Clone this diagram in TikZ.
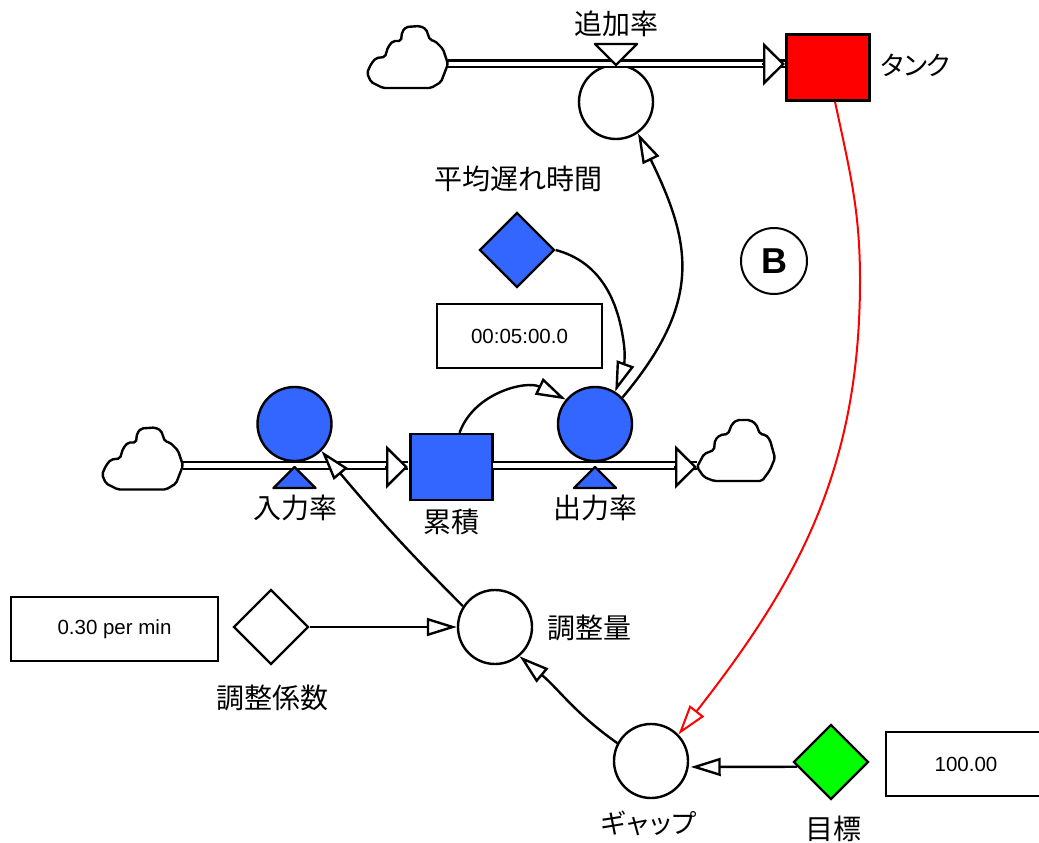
\documentclass[tikz,border=0pt]{standalone}
\usepackage{fontspec}
\setmainfont{Liberation Sans}
\newfontfamily\jpfont{Noto Sans CJK JP}
\newfontfamily\kanafont[LetterSpace=-12]{Noto Sans CJK JP}
\usetikzlibrary{arrows.meta,shapes.geometric}

\definecolor{flowblue}{HTML}{3366FF}

\tikzset{
  every path/.style={line width=2.4pt},
  ratecirc/.style={draw,circle,line width=2.4pt,minimum size=74pt,inner sep=0pt,fill=white},
  conv/.style={draw,diamond,line width=2.4pt,aspect=1,minimum size=75pt,inner sep=0pt,fill=white},
  stockbox/.style={draw,rectangle,line width=2.4pt,minimum width=#1,minimum height=66pt,inner sep=0pt},
  valuebox/.style={draw,rectangle,line width=2.4pt,fill=white,minimum height=64pt,inner sep=0pt,font=\fontsize{20.5}{20.5}\selectfont},
  jplabel/.style={font=\fontsize{28}{28}\selectfont\jpfont,inner sep=0pt},
  kanalabel/.style={font=\fontsize{26.5}{27}\selectfont\kanafont,inner sep=0pt},
  link/.style={-{Triangle[length=30pt,width=18pt,fill=white]},black},
  flowpipe/.style={double=white,double distance=4.2pt},
  flowhead/.style={-{Triangle[length=22pt,width=43pt,fill=white]}},
  cloudleft/.pic={
    \draw[rounded corners=2pt,fill=white] (0,0) -- (-5,-15) -- (-13,-23) -- (-18,-24) -- (-22,-35) -- (-28,-38) -- (-42,-37)
      -- (-46,-32) -- (-47,-23) -- (-55,-23) -- (-60,-17) -- (-63,-7) -- (-72,-6) -- (-77,0) -- (-81,9)
      -- (-77,18) -- (-65,24) -- (-17,24) -- (-7,18) -- cycle;
  },
  cloudright/.pic={
    \draw[rounded corners=2pt,fill=white] (0,0) -- (7,-13) -- (17,-17) -- (18,-27) -- (23,-32) -- (31,-33) -- (35,-43) -- (40,-47)
      -- (53,-47) -- (59,-43) -- (63,-33) -- (69,-32) -- (73,-27) -- (78,-9) -- (73,3) -- (65,14)
      -- (17,14) -- (7,10) -- cycle;
  },
  valveup/.pic={
    \draw[fill=flowblue,line join=round] (-21,21) -- (0,0) -- (21,21) -- cycle;
  },
  valvedown/.pic={
    \draw[fill=white,line join=round] (-21,-21) -- (0,0) -- (21,-21) -- cycle;
  },
}

\begin{document}
\begin{tikzpicture}[x=1pt,y=-1pt]
  \useasboundingbox (0,0) rectangle (1039,843);

  % stocks
  \node[stockbox=83pt,fill=red] (tank) at (828,67.5) {};
  \node[stockbox=82pt,fill=flowblue] (accum) at (451.5,467) {};

  % rates
  \node[ratecirc] (addrate) at (616,102) {};
  \node[ratecirc,fill=flowblue] (inrate) at (294.5,424) {};
  \node[ratecirc,fill=flowblue] (outrate) at (595,424) {};
  \node[ratecirc] (adjust) at (495,627) {};
  \node[ratecirc] (gap) at (651,761) {};

  % converters
  \node[conv,fill=flowblue] (delay) at (517,250) {};
  \node[conv] (adjcoef) at (271,627) {};
  \node[conv,fill=green] (goal) at (831,762) {};

  % value boxes
  \node[valuebox,minimum width=165pt] (delayval) at (519.5,336) {00:05:00.0};
  \node[valuebox,minimum width=207pt] (coefval) at (114.5,629) {0.30 per min};
  \node[valuebox,minimum width=160pt] (goalval) at (966,764) {100.00};

  % loop mark
  \node[draw,circle,line width=2pt,minimum size=66pt,inner sep=0pt,font=\fontsize{36}{36}\selectfont\bfseries] (loopmark) at (774,261) {B};

  % flows
  \coordinate (cloudA) at (448,64);
  \coordinate (tankIn) at (785,64);
  \coordinate (cloudB) at (183,465.5);
  \coordinate (accumIn) at (408,467);
  \coordinate (accumOut) at (493,465.5);
  \coordinate (cloudC) at (697,467);
  \draw[flowpipe] (cloudA) -- (tankIn);
  \draw[flowpipe] (cloudB) -- (accumIn |- cloudB);
  \draw[flowpipe] (accumOut) -- (cloudC |- accumOut);
  \draw[flowhead] ([xshift=-23pt]tankIn) -- (tankIn);
  \draw[flowhead] ([xshift=-23pt]accumIn) -- (accumIn);
  \pic at (cloudA) {cloudleft};
  \pic at (cloudB) {cloudleft};
  \pic at (cloudC) {cloudright};
  \draw[flowhead] ([xshift=-23pt]cloudC) -- (cloudC);
  \pic at (616,65) {valvedown};
  \pic at (294.5,467) {valveup};
  \pic at (595,467) {valveup};

  % links
  \coordinate (delaybend) at (624,345);
  \draw[link] (delay.east) to[out=-15,in=97] (delaybend) to[out=-83,in=70] (outrate.58);
  \draw[link] (outrate.44) to[out=50,in=-64,looseness=1.2] (addrate.-55);
  \draw[link] ([xshift=8pt]accum.north) to[out=70,in=154] (outrate.140);
  \draw[link] (adjust.147) to[out=135,in=-50] (inrate.-45);
  \draw[link] (adjcoef) -- (adjust);
  \draw[link] (gap.152) to[out=145,in=-40] (adjust.-50);
  \draw[link] (goal.188) -- ([xshift=2pt]gap.-9);
  \coordinate (redbend) at (860,280);
  \draw[link,red,line width=2pt] ([xshift=7pt]tank.south) to[out=-78,in=90] (redbend) to[out=-90,in=52] (gap.44);

  % labels
  \node[jplabel] (addlabel) at (616.5,24) {追加率};
  \node[kanalabel,anchor=west] (tanklabel) at (878,65) {タンク};
  \node[jplabel,anchor=west] (delaylabel) at (433,179) {平均遅れ時間};
  \node[jplabel] (inlabel) at (295,508) {入力率};
  \node[jplabel] (accumlabel) at (451,522) {累積};
  \node[jplabel] (outlabel) at (595,508) {出力率};
  \node[jplabel,anchor=west] (adjlabel) at (546,628) {調整量};
  \node[jplabel] (coeflabel) at (272,698) {調整係数};
  \node[kanalabel] (gaplabel) at (649,823) {ギャップ};
  \node[jplabel] (goallabel) at (833,829) {目標};
\end{tikzpicture}
\end{document}
